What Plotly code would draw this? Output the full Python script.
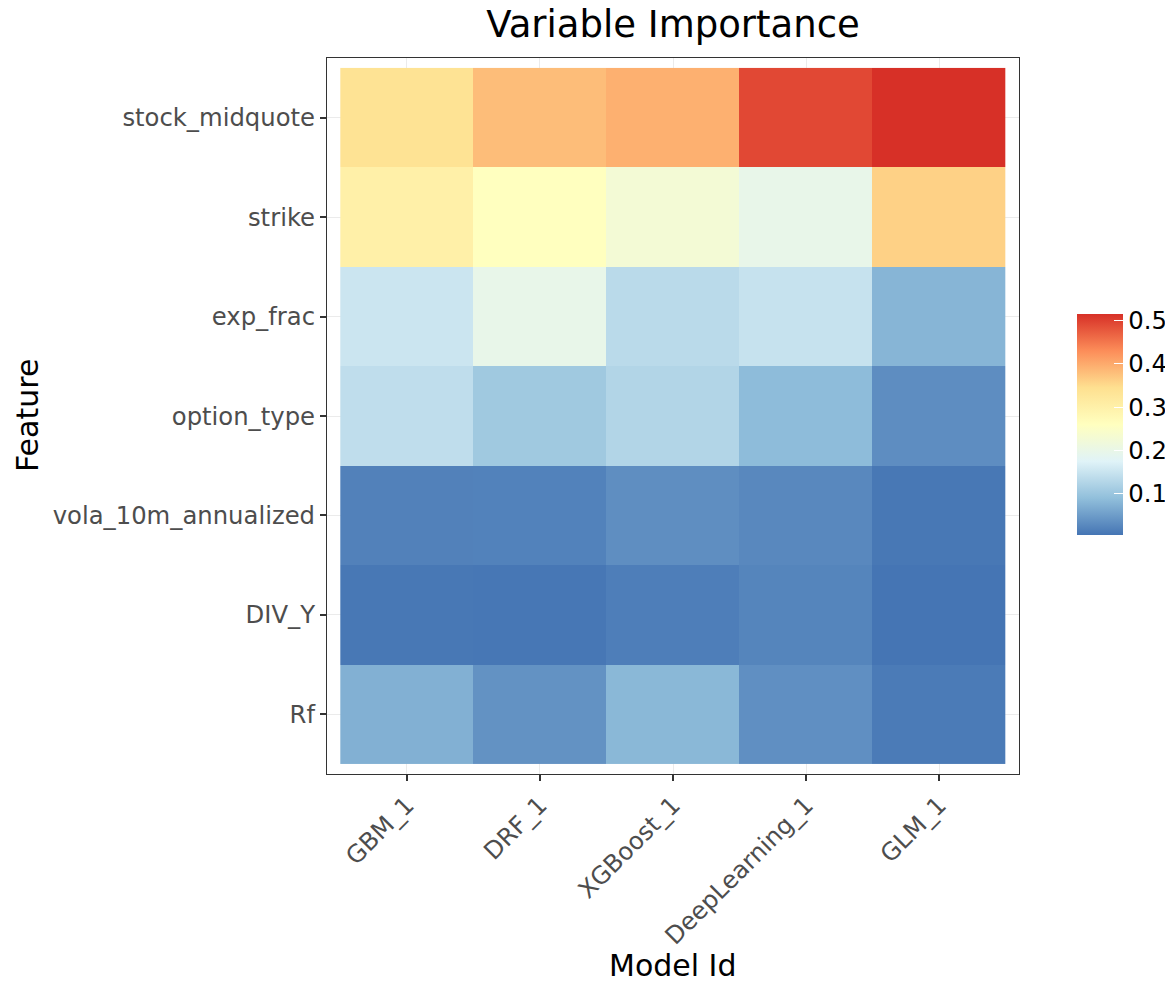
import plotly.graph_objects as go

models = ["GBM_1", "DRF_1", "XGBoost_1", "DeepLearning_1", "GLM_1"]
features = ["stock_midquote", "strike", "exp_frac", "option_type",
            "vola_10m_annualized", "DIV_Y", "Rf"]

stock_midquote = [0.337, 0.381, 0.394, 0.493, 0.515]
strike = [0.301, 0.260, 0.227, 0.197, 0.360]
exp_frac = [0.152, 0.197, 0.134, 0.147, 0.079]
option_type = [0.139, 0.106, 0.126, 0.087, 0.033]
vola_10m_annualized = [0.019, 0.020, 0.034, 0.027, 0.008]
div_y = [0.008, 0.007, 0.015, 0.023, 0.005]
rf = [0.073, 0.038, 0.082, 0.035, 0.012]

z = [stock_midquote, strike, exp_frac, option_type, vola_10m_annualized, div_y, rf]

colorscale = [
    [0.0, "#4575b4"], [1/6, "#91bfdb"], [2/6, "#e0f3f8"], [3/6, "#ffffbf"],
    [4/6, "#fee090"], [5/6, "#fc8d59"], [1.0, "#d73027"],
]

FONT = "DejaVu Sans"
TICK = 24.3
OFF = 8  # default page body margin
W, H = 1173 - OFF, 982 - OFF

fig = go.Figure(go.Heatmap(
    z=z, x=models, y=features, colorscale=colorscale,
    colorbar=dict(
        x=(1067 - 327) / 692, xanchor="left", y=(774 - 424.5) / 716, yanchor="middle",
        len=241, lenmode="pixels", thickness=46, thicknessmode="pixels",
        outlinewidth=0, ticks="inside", ticklen=9, tickcolor="white",
        tickvals=[0.1, 0.2, 0.3, 0.4, 0.5], ticktext=["0.1", "0.2", "0.3", "0.4", "0.5"],
        tickfont=dict(family=FONT, size=TICK, color="black"),
    ),
    hovertemplate="%{x}<br>%{y}<br>%{z}<extra></extra>",
))

fig.update_layout(
    width=W, height=H,
    margin=dict(l=327 - OFF, r=1173 - 1019, t=58 - OFF, b=982 - 774, autoexpand=False),
    paper_bgcolor="white", plot_bgcolor="white",
    font=dict(family=FONT),
    title=dict(text="Variable Importance", x=(673 - OFF) / W, xanchor="center",
               y=1 - (24 - OFF) / H, yanchor="middle",
               font=dict(family=FONT, size=37, color="black")),
    xaxis=dict(
        type="category", categoryorder="array", categoryarray=models,
        range=[-0.6, 4.6], tickangle=-45,
        ticks="outside", ticklen=6, tickwidth=2, tickcolor="#333333",
        tickfont=dict(family=FONT, size=TICK, color="#4d4d4d"),
        showgrid=True, gridcolor="#ebebeb", gridwidth=1.2,
        showline=True, linecolor="#333333", linewidth=1.2, mirror=True,
        zeroline=False, automargin=False,
    ),
    yaxis=dict(
        type="category", categoryorder="array", categoryarray=features[::-1],
        range=[-0.6, 6.6],
        ticks="outside", ticklen=6, tickwidth=2, tickcolor="#333333",
        tickfont=dict(family=FONT, size=TICK, color="#4d4d4d"),
        showgrid=True, gridcolor="#ebebeb", gridwidth=1.2,
        showline=True, linecolor="#333333", linewidth=1.2, mirror=True,
        zeroline=False, automargin=False,
    ),
    annotations=[
        dict(text="Feature", xref="paper", yref="paper",
             x=(27 - 327) / 692, y=(774 - 416) / 716, xanchor="center", yanchor="middle",
             textangle=-90, showarrow=False,
             font=dict(family=FONT, size=30, color="black")),
        dict(text="Model Id", xref="paper", yref="paper",
             x=(673 - 327) / 692, y=(774 - 965) / 716, xanchor="center", yanchor="middle",
             showarrow=False, font=dict(family=FONT, size=30, color="black")),
    ],
)

fig.write_html("out.html")
